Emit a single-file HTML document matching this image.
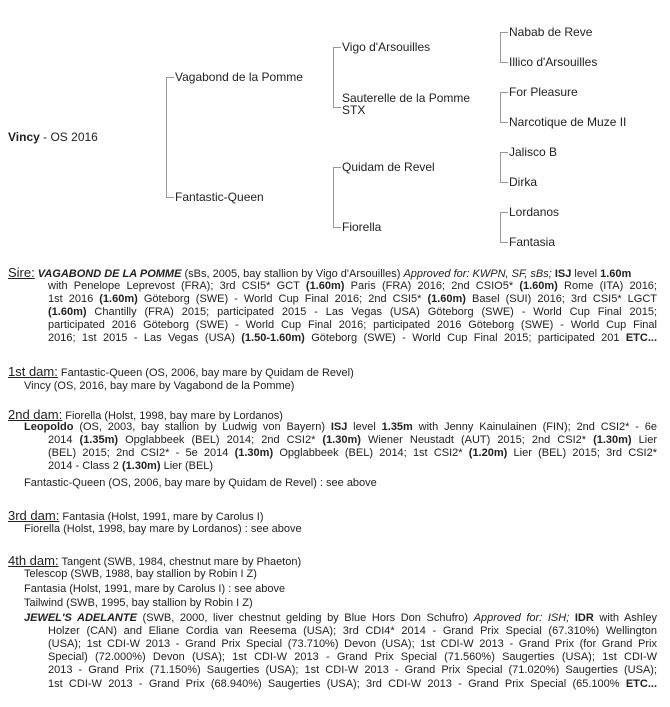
<!DOCTYPE html>
<html><head><meta charset="utf-8"><style>
body{margin:0;width:670px;height:707px;background:#fff;position:relative;font-family:"Liberation Sans",sans-serif;color:#222;overflow:hidden}
.p{position:absolute;font-size:12px;white-space:nowrap;line-height:14px}
.l{position:absolute;font-size:11px;line-height:13px;white-space:nowrap}
.j{text-align:justify;text-align-last:justify;white-space:normal}
.lab{font-size:13px;text-decoration:underline}
.v{position:absolute;background:#999;width:1px}
.h{position:absolute;background:#999;height:1px;width:8px}
b{font-weight:bold}
</style></head><body>
<div class="p" style="left:8px;top:130px"><b>Vincy</b> - OS 2016</div>
<div class="v" style="left:166px;top:77px;height:121px"></div>
<div class="h" style="left:166px;top:77px"></div><div class="h" style="left:166px;top:197px"></div>
<div class="p" style="left:175px;top:70px">Vagabond de la Pomme</div>
<div class="p" style="left:175px;top:190px">Fantastic-Queen</div>
<div class="v" style="left:333px;top:47px;height:61px"></div>
<div class="h" style="left:333px;top:47px"></div><div class="h" style="left:333px;top:107px"></div>
<div class="v" style="left:333px;top:167px;height:61px"></div>
<div class="h" style="left:333px;top:167px"></div><div class="h" style="left:333px;top:227px"></div>
<div class="p" style="left:342px;top:40px">Vigo d'Arsouilles</div>
<div class="p" style="left:342px;top:92px;line-height:12px">Sauterelle de la Pomme<br>STX</div>
<div class="p" style="left:342px;top:160px">Quidam de Revel</div>
<div class="p" style="left:342px;top:220px">Fiorella</div>
<div class="v" style="left:500px;top:32px;height:31px"></div><div class="h" style="left:500px;top:32px"></div><div class="h" style="left:500px;top:62px"></div>
<div class="v" style="left:500px;top:92px;height:31px"></div><div class="h" style="left:500px;top:92px"></div><div class="h" style="left:500px;top:122px"></div>
<div class="v" style="left:500px;top:152px;height:31px"></div><div class="h" style="left:500px;top:152px"></div><div class="h" style="left:500px;top:182px"></div>
<div class="v" style="left:500px;top:212px;height:31px"></div><div class="h" style="left:500px;top:212px"></div><div class="h" style="left:500px;top:242px"></div>
<div class="p" style="left:509px;top:25px">Nabab de Reve</div>
<div class="p" style="left:509px;top:55px">Illico d'Arsouilles</div>
<div class="p" style="left:509px;top:85px">For Pleasure</div>
<div class="p" style="left:509px;top:115px">Narcotique de Muze II</div>
<div class="p" style="left:509px;top:145px">Jalisco B</div>
<div class="p" style="left:509px;top:175px">Dirka</div>
<div class="p" style="left:509px;top:205px">Lordanos</div>
<div class="p" style="left:509px;top:235px">Fantasia</div>

<div class="l" style="left:8px;top:266px"><span class="lab">Sire:</span> <b><i>VAGABOND DE LA POMME</i></b> (sBs, 2005, bay stallion by Vigo d'Arsouilles) <i>Approved for: KWPN, SF, sBs;</i> <b>ISJ</b> level <b>1.60m</b></div>
<div class="l j" style="left:48px;width:609px;top:280px">with Penelope Leprevost (FRA); 3rd CSI5* GCT <b>(1.60m)</b> Paris (FRA) 2016; 2nd CSIO5* <b>(1.60m)</b> Rome (ITA) 2016;</div>
<div class="l j" style="left:48px;width:609px;top:293px">1st 2016 <b>(1.60m)</b> Göteborg (SWE) - World Cup Final 2016; 2nd CSI5* <b>(1.60m)</b> Basel (SUI) 2016; 3rd CSI5* LGCT</div>
<div class="l j" style="left:48px;width:609px;top:306px"><b>(1.60m)</b> Chantilly (FRA) 2015; participated 2015 - Las Vegas (USA) Göteborg (SWE) - World Cup Final 2015;</div>
<div class="l j" style="left:48px;width:609px;top:319px">participated 2016 Göteborg (SWE) - World Cup Final 2016; participated 2016 Göteborg (SWE) - World Cup Final</div>
<div class="l j" style="left:48px;width:609px;top:332px">2016; 1st 2015 - Las Vegas (USA) <b>(1.50-1.60m)</b> Göteborg (SWE) - World Cup Final 2015; participated 201 <b>ETC...</b></div>

<div class="l" style="left:8px;top:365px"><span class="lab">1st dam:</span> Fantastic-Queen (OS, 2006, bay mare by Quidam de Revel)</div>
<div class="l" style="left:24px;top:380px">Vincy (OS, 2016, bay mare by Vagabond de la Pomme)</div>

<div class="l" style="left:8px;top:408px"><span class="lab">2nd dam:</span> Fiorella (Holst, 1998, bay mare by Lordanos)</div>
<div class="l j" style="left:24px;width:633px;top:421px"><b>Leopoldo</b> (OS, 2003, bay stallion by Ludwig von Bayern) <b>ISJ</b> level <b>1.35m</b> with Jenny Kainulainen (FIN); 2nd CSI2* - 6e</div>
<div class="l j" style="left:48px;width:609px;top:434px">2014 <b>(1.35m)</b> Opglabbeek (BEL) 2014; 2nd CSI2* <b>(1.30m)</b> Wiener Neustadt (AUT) 2015; 2nd CSI2* <b>(1.30m)</b> Lier</div>
<div class="l j" style="left:48px;width:609px;top:447px">(BEL) 2015; 2nd CSI2* - 5e 2014 <b>(1.30m)</b> Opglabbeek (BEL) 2014; 1st CSI2* <b>(1.20m)</b> Lier (BEL) 2015; 3rd CSI2*</div>
<div class="l" style="left:48px;top:460px">2014 - Class 2 <b>(1.30m)</b> Lier (BEL)</div>
<div class="l" style="left:24px;top:477px">Fantastic-Queen (OS, 2006, bay mare by Quidam de Revel) : see above</div>

<div class="l" style="left:8px;top:509px"><span class="lab">3rd dam:</span> Fantasia (Holst, 1991, mare by Carolus I)</div>
<div class="l" style="left:24px;top:523px">Fiorella (Holst, 1998, bay mare by Lordanos) : see above</div>

<div class="l" style="left:8px;top:554px"><span class="lab">4th dam:</span> Tangent (SWB, 1984, chestnut mare by Phaeton)</div>
<div class="l" style="left:24px;top:568px">Telescop (SWB, 1988, bay stallion by Robin I Z)</div>
<div class="l" style="left:24px;top:583px">Fantasia (Holst, 1991, mare by Carolus I) : see above</div>
<div class="l" style="left:24px;top:597px">Tailwind (SWB, 1995, bay stallion by Robin I Z)</div>
<div class="l j" style="left:24px;width:633px;top:612px"><b><i>JEWEL'S ADELANTE</i></b> (SWB, 2000, liver chestnut gelding by Blue Hors Don Schufro) <i>Approved for: ISH;</i> <b>IDR</b> with Ashley</div>
<div class="l j" style="left:48px;width:609px;top:625px">Holzer (CAN) and Eliane Cordia van Reesema (USA); 3rd CDI4* 2014 - Grand Prix Special (67.310%) Wellington</div>
<div class="l j" style="left:48px;width:609px;top:638px">(USA); 1st CDI-W 2013 - Grand Prix Special (73.710%) Devon (USA); 1st CDI-W 2013 - Grand Prix (for Grand Prix</div>
<div class="l j" style="left:48px;width:609px;top:651px">Special) (72.000%) Devon (USA); 1st CDI-W 2013 - Grand Prix Special (71.560%) Saugerties (USA); 1st CDI-W</div>
<div class="l j" style="left:48px;width:609px;top:664px">2013 - Grand Prix (71.150%) Saugerties (USA); 1st CDI-W 2013 - Grand Prix Special (71.020%) Saugerties (USA);</div>
<div class="l j" style="left:48px;width:609px;top:678px">1st CDI-W 2013 - Grand Prix (68.940%) Saugerties (USA); 3rd CDI-W 2013 - Grand Prix Special (65.100% <b>ETC...</b></div>
</body></html>
